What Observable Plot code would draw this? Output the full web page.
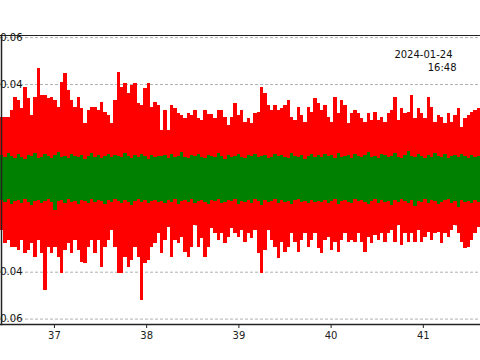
<!DOCTYPE html>
<html>
<head>
<meta charset="utf-8">
<script src="https://cdn.jsdelivr.net/npm/d3@7"></script>
<script src="https://cdn.jsdelivr.net/npm/@observablehq/plot@0.6"></script>
<style>
  html, body { margin: 0; padding: 0; background: #fff; }
  #chart svg { display: block; }
</style>
</head>
<body>
<div id="chart"></div>
<script>
// Trace sampling (seconds within the minute)
const startTime = 36.415;
const sampleStep = 0.036146;

// Envelope values (max / min per sample)
const redHi = [
.0259,.0259,.0259,.0289,.0344,.0332,.0298,.0387,.0340,.0268,.0344,.0468,.0353,.0353,.0340,.0344,.0332,.0302,.0408,.0446,.0374,.0332,.0302,.0344,.0298,.0234,.0289,.0302,.0302,.0289,.0323,.0281,.0268,.0234,.0332,.0451,.0387,.0404,.0361,.0395,.0404,.0319,.0310,.0383,.0404,.0302,.0323,.0310,
.0204,.0289,.0204,.0310,.0298,.0276,.0268,.0255,.0276,.0268,.0289,.0255,.0247,.0289,.0272,.0272,.0255,.0289,.0289,.0259,.0225,.0259,.0319,.0268,.0289,.0238,.0255,.0234,.0276,.0281,.0387,.0361,.0310,.0289,.0310,.0289,.0298,.0310,.0332,.0259,.0247,.0302,.0268,.0238,.0302,.0281,.0340,.0319,
.0289,.0310,.0259,.0238,.0344,.0276,.0332,.0310,.0234,.0276,.0289,.0276,.0255,.0238,.0276,.0247,.0281,.0247,.0259,.0238,.0276,.0289,.0344,.0247,.0298,.0276,.0281,.0353,.0255,.0298,.0276,.0255,.0344,.0302,.0238,.0268,.0259,.0234,.0276,.0238,.0268,.0298,.0217,.0255,.0268,.0281,.0289,.0298
];
const redLo = [
-.0221,-.0276,-.0264,-.0293,-.0293,-.0306,-.0264,-.0319,-.0306,-.0276,-.0336,-.0264,-.0319,-.0476,-.0293,-.0319,-.0293,-.0336,-.0404,-.0306,-.0276,-.0319,-.0264,-.0306,-.0357,-.0361,-.0293,-.0264,-.0319,-.0264,-.0378,-.0293,-.0264,-.0221,-.0293,-.0404,-.0404,-.0336,-.0378,-.0349,-.0293,-.0336,-.0519,-.0361,-.0349,-.0293,-.0276,-.0234,
-.0319,-.0264,-.0208,-.0336,-.0264,-.0276,-.0251,-.0315,-.0336,-.0293,-.0200,-.0293,-.0255,-.0336,-.0293,-.0213,-.0234,-.0264,-.0234,-.0276,-.0251,-.0213,-.0234,-.0251,-.0221,-.0272,-.0234,-.0255,-.0221,-.0319,-.0404,-.0306,-.0221,-.0264,-.0293,-.0340,-.0272,-.0315,-.0293,-.0234,-.0272,-.0315,-.0264,-.0234,-.0293,-.0264,-.0234,-.0298,
-.0319,-.0264,-.0251,-.0306,-.0272,-.0315,-.0264,-.0234,-.0272,-.0264,-.0272,-.0234,-.0272,-.0315,-.0251,-.0276,-.0242,-.0264,-.0234,-.0272,-.0234,-.0221,-.0272,-.0200,-.0285,-.0234,-.0272,-.0234,-.0272,-.0221,-.0272,-.0251,-.0230,-.0264,-.0234,-.0230,-.0276,-.0234,-.0251,-.0221,-.0200,-.0234,-.0272,-.0298,-.0293,-.0264,-.0234,-.0208
];
const greenHi = [
.0098,.0090,.0106,.0094,.0085,.0102,.0090,.0081,.0098,.0094,.0106,.0085,.0090,.0102,.0094,.0086,.0098,.0111,.0090,.0094,.0085,.0102,.0094,.0090,.0098,.0081,.0094,.0106,.0090,.0098,.0085,.0094,.0102,.0090,.0098,.0094,.0090,.0106,.0094,.0085,.0098,.0090,.0102,.0094,.0081,.0098,.0090,.0094,
.0094,.0098,.0085,.0102,.0090,.0094,.0111,.0090,.0085,.0098,.0094,.0102,.0090,.0085,.0098,.0094,.0090,.0106,.0094,.0081,.0098,.0090,.0094,.0102,.0090,.0085,.0098,.0094,.0102,.0090,.0094,.0098,.0085,.0090,.0102,.0094,.0098,.0090,.0085,.0106,.0094,.0090,.0098,.0081,.0094,.0102,.0090,.0098,
.0090,.0102,.0094,.0098,.0085,.0106,.0090,.0094,.0098,.0085,.0102,.0094,.0090,.0098,.0111,.0090,.0094,.0085,.0102,.0098,.0090,.0094,.0106,.0090,.0085,.0098,.0115,.0094,.0090,.0102,.0094,.0085,.0098,.0090,.0106,.0094,.0090,.0102,.0085,.0094,.0098,.0090,.0102,.0094,.0085,.0098,.0090,.0094
];
const greenLo = [
-.0094,-.0102,-.0089,-.0110,-.0098,-.0094,-.0106,-.0089,-.0102,-.0115,-.0098,-.0094,-.0106,-.0098,-.0089,-.0102,-.0136,-.0098,-.0094,-.0106,-.0089,-.0102,-.0098,-.0110,-.0094,-.0098,-.0106,-.0089,-.0102,-.0094,-.0098,-.0110,-.0094,-.0102,-.0089,-.0098,-.0106,-.0094,-.0102,-.0115,-.0098,-.0089,-.0102,-.0094,-.0106,-.0098,-.0094,-.0102,
-.0098,-.0106,-.0094,-.0102,-.0089,-.0110,-.0098,-.0094,-.0102,-.0089,-.0106,-.0098,-.0094,-.0102,-.0110,-.0094,-.0098,-.0089,-.0106,-.0102,-.0094,-.0098,-.0089,-.0110,-.0098,-.0102,-.0094,-.0106,-.0089,-.0098,-.0115,-.0094,-.0102,-.0098,-.0089,-.0106,-.0094,-.0102,-.0098,-.0110,-.0094,-.0089,-.0102,-.0098,-.0106,-.0094,-.0102,-.0098,
-.0102,-.0094,-.0106,-.0098,-.0089,-.0110,-.0098,-.0094,-.0102,-.0106,-.0089,-.0098,-.0094,-.0102,-.0110,-.0098,-.0089,-.0106,-.0094,-.0102,-.0098,-.0115,-.0094,-.0102,-.0089,-.0098,-.0106,-.0094,-.0119,-.0098,-.0102,-.0089,-.0106,-.0094,-.0098,-.0110,-.0102,-.0094,-.0089,-.0106,-.0098,-.0123,-.0094,-.0102,-.0098,-.0106,-.0094,-.0102
];

const yTicks = [-0.06, -0.04, -0.02, 0, 0.02, 0.04, 0.06];
const xTicks = [37, 38, 39, 40, 41];
const dateLabel = "2024-01-24";
const timeLabel = "16:48";
const xDomain = [36.415, 41.62];
const yDomain = [-0.0623, 0.0609];

const samples = redHi.map((v, i) => ({
  t0: startTime + i * sampleStep,
  t1: startTime + (i + 1) * sampleStep,
  rHi: v, rLo: redLo[i], gHi: greenHi[i], gLo: greenLo[i]
}));

const chart = Plot.plot({
  width: 480,
  height: 360,
  marginTop: 35,
  marginBottom: 36,
  marginLeft: 0,
  marginRight: 0,
  style: { fontFamily: "DejaVu Sans", fontSize: "10px", background: "white", color: "black", overflow: "hidden" },
  x: { domain: xDomain },
  y: { domain: yDomain },
  marks: [
    Plot.gridY(yTicks, { stroke: "#b0b0b0", strokeOpacity: 1, strokeWidth: 1, strokeDasharray: "3,2" }),
    Plot.axisY(yTicks, { anchor: "left", tickSize: 0, tickPadding: 0, dx: 22, tickFormat: d3.format(".2f"), fill: "#111", fontSize: 10 }),
    Plot.rect(samples, { x1: "t0", x2: "t1", y1: "rLo", y2: "rHi", fill: "#ff0000", shapeRendering: "crispEdges" }),
    Plot.rect(samples, { x1: "t0", x2: "t1", y1: "gLo", y2: "gHi", fill: "#008000", shapeRendering: "crispEdges" }),
    Plot.axisX(xTicks, { anchor: "bottom", tickSize: 4, tickPadding: 3, tickFormat: "d", stroke: "#222", fill: "#222", fontSize: 10 }),
    Plot.frame({ anchor: "bottom", stroke: "#222", strokeWidth: 1.5 }),
    Plot.frame({ anchor: "top", stroke: "#222", strokeWidth: 1.2 }),
    Plot.frame({ anchor: "left", stroke: "#222", strokeWidth: 1.5, dx: 1 }),
    Plot.text([dateLabel], { frameAnchor: "top-right", dx: -28, dy: 19, textAnchor: "end", lineAnchor: "middle", fill: "#111", fontSize: 10 }),
    Plot.text([timeLabel], { frameAnchor: "top-right", dx: -24, dy: 32, textAnchor: "end", lineAnchor: "middle", fill: "#111", fontSize: 10 })
  ]
});
document.getElementById("chart").appendChild(chart);
</script>
</body>
</html>
